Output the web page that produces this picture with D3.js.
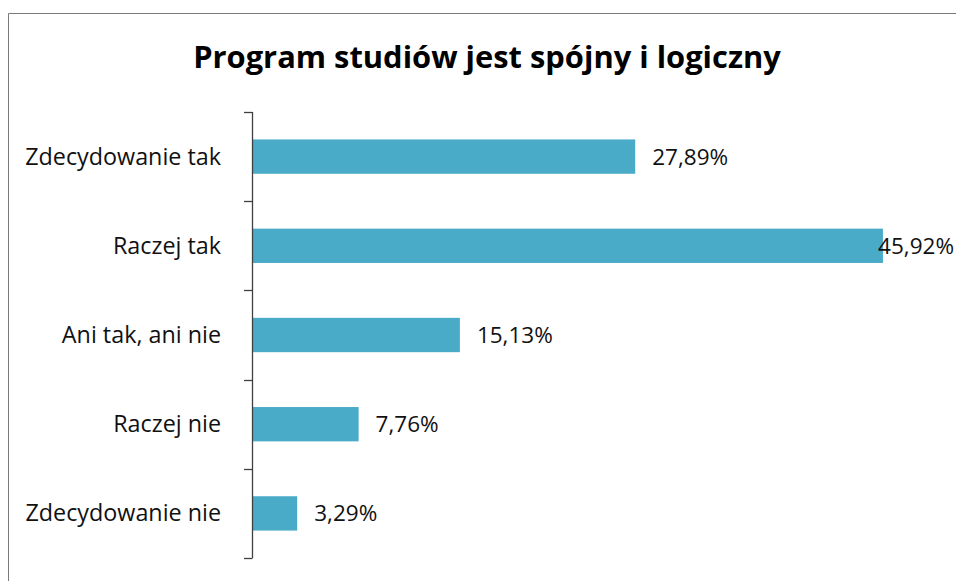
<!DOCTYPE html>
<html><head><meta charset="utf-8">
<script src="https://cdn.jsdelivr.net/npm/d3@7/dist/d3.min.js"></script>
<style>html,body{margin:0;padding:0;background:#fff;overflow:hidden}</style>
</head><body>
<svg id="c" width="956" height="581"></svg>
<script>
const title = "Program studiów jest spójny i logiczny";
const categories = ["Zdecydowanie tak", "Raczej tak", "Ani tak, ani nie", "Raczej nie", "Zdecydowanie nie"];
const values = [27.89, 45.92, 15.13, 7.76, 3.29];
const valueLabels = ["27,89%", "45,92%", "15,13%", "7,76%", "3,29%"];
const xDomain = [0, 50];

const W = 956, H = 581;
const svg = d3.select("#c");
const font = "'Open Sans', 'Noto Sans', sans-serif";

// frame
svg.append("path").attr("d", `M8.5,${H} V13.5 H${W}`).attr("fill","none").attr("stroke","#7a7a7a").attr("stroke-width",1);

const x = d3.scaleLinear().domain(xDomain).range([252, 939]);
const y = d3.scaleBand().domain(categories).range([112, 558]).paddingInner(0).paddingOuter(0);
const barH = y.bandwidth() * 0.385;

function fit(sel, target) {
  const w = sel.node().getComputedTextLength();
  const fs = parseFloat(sel.attr("font-size"));
  sel.attr("font-size", fs * target / w);
}

// title
const t = svg.append("text").attr("x", 487).attr("y", 68).attr("text-anchor","middle")
  .attr("font-family", font).attr("font-weight", "bold").attr("font-size", 28).attr("fill","#000").text(title);
fit(t, 588);

// bars
svg.selectAll("rect.bar").data(categories).join("rect").attr("class","bar")
  .attr("x", x(0)).attr("y", d => y(d) + (y.bandwidth() - barH)/2)
  .attr("width", (d,i) => x(values[i]) - x(0)).attr("height", barH)
  .attr("fill", "#4aabc9");

// axis
const ax = svg.append("g");
ax.append("line").attr("x1", 252.5).attr("x2", 252.5).attr("y1", y.range()[0]).attr("y2", y.range()[1]).attr("stroke","#404040").attr("stroke-width",1.3);
const bounds = categories.map(c => y(c)).concat([y.range()[1]]);
ax.selectAll("line.tick").data(bounds).join("line").attr("class","tick")
  .attr("x1", 244).attr("x2", 252.5).attr("y1", d => Math.round(d)+0.5).attr("y2", d => Math.round(d)+0.5)
  .attr("stroke","#404040").attr("stroke-width",1.3);

// category labels
const cl = svg.selectAll("text.cat").data(categories).join("text").attr("class","cat")
  .attr("x", 221).attr("y", d => y(d) + y.bandwidth()/2 + 8).attr("text-anchor","end")
  .attr("font-family", font).attr("font-size", 20).attr("fill","#111").text(d => d);
{
  const w = cl.nodes()[0].getComputedTextLength();
  cl.attr("font-size", 20 * 196 / w);
}

// value labels
const vl = svg.selectAll("text.val").data(categories).join("text").attr("class","val")
  .attr("y", d => y(d) + y.bandwidth()/2 + 8)
  .attr("font-family", font).attr("font-size", 20).attr("fill","#111").text((d,i) => valueLabels[i]);
{
  const w = vl.nodes()[0].getComputedTextLength();
  vl.attr("font-size", 20 * 76 / w);
}
vl.each(function(d,i){
  const tw = this.getComputedTextLength();
  d3.select(this).attr("x", Math.min(x(values[i]) + 17, W - tw - 2));
});
</script>
</body></html>
